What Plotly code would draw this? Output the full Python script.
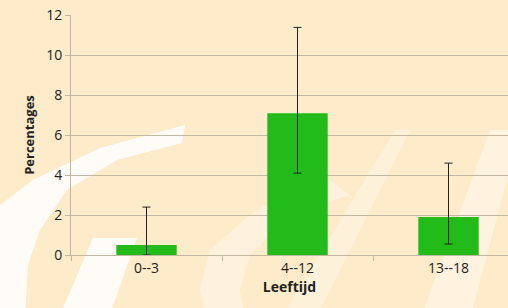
import plotly.graph_objects as go

categories = ["0--3", "4--12", "13--18"]
values = [0.5, 7.1, 1.9]
err_plus = [1.9, 4.3, 2.7]
err_minus = [0.5, 3.0, 1.35]
y_ticks = [0, 2, 4, 6, 8, 10, 12]

W, H = 508, 308
L, T = 71, 15
R, B = 0, 53
pw, ph = W - L - R, H - T - B

def P(px, py):
    return (px - L) / pw, (H - B - py) / ph

def path(pts):
    s = ""
    for i, (x, y) in enumerate(pts):
        xp, yp = P(x, y)
        s += ("M" if i == 0 else "L") + f"{xp:.4f},{yp:.4f} "
    return s + "Z"

shapes = []
swoosh = [(-10, 190), (0, 205), (33, 180), (100, 148), (185, 125), (182, 143),
          (117, 160), (67, 190), (40, 230), (28, 265), (25, 320), (-10, 320)]
shapes.append(dict(type="path", xref="paper", yref="paper", path=path(swoosh),
                   fillcolor="rgba(255,255,255,0.85)", line=dict(width=0), layer="below"))
stripe = [(93, 238), (137, 238), (108, 320), (58, 320)]
shapes.append(dict(type="path", xref="paper", yref="paper", path=path(stripe),
                   fillcolor="rgba(255,255,255,0.85)", line=dict(width=0), layer="below"))
c_shape = [(330, 180), (290, 190), (250, 215), (210, 250), (200, 290), (205, 320),
           (245, 320), (240, 290), (250, 255), (280, 225), (320, 205), (350, 195)]
shapes.append(dict(type="path", xref="paper", yref="paper", path=path(c_shape),
                   fillcolor="rgba(255,255,255,0.35)", line=dict(width=0), layer="below"))
stripe2 = [(395, 130), (410, 130), (315, 320), (280, 320)]
shapes.append(dict(type="path", xref="paper", yref="paper", path=path(stripe2),
                   fillcolor="rgba(255,255,255,0.3)", line=dict(width=0), layer="below"))
stripe3 = [(490, 130), (520, 130), (470, 320), (420, 320)]
shapes.append(dict(type="path", xref="paper", yref="paper", path=path(stripe3),
                   fillcolor="rgba(255,255,255,0.4)", line=dict(width=0), layer="below"))

fig = go.Figure()
fig.add_trace(go.Bar(
    x=categories, y=values, width=0.4,
    marker=dict(color="#22BB1A", line=dict(width=0)),
    error_y=dict(type="data", array=err_plus, arrayminus=err_minus,
                 color="#222222", thickness=1, width=4),
))

grid = "#C2B8A2"
fig.update_layout(
    width=W, height=H,
    margin=dict(l=L, r=R, t=T, b=B, autoexpand=False),
    paper_bgcolor="#FDEBC9", plot_bgcolor="rgba(0,0,0,0)",
    font=dict(family="Open Sans, Lato, sans-serif", color="#222222"),
    showlegend=False, shapes=shapes,
    xaxis=dict(range=[-0.5, 2.394], ticks="outside", tickson="boundaries",
               ticklen=5, tickcolor=grid, showline=True, linecolor=grid,
               showgrid=False, tickfont=dict(size=14, color="#222222"),
               title=dict(text="<b>Leeftijd</b>", font=dict(size=14), standoff=6)),
    yaxis=dict(range=[0, 12.02], tickvals=y_ticks, ticks="outside", ticklen=5,
               tickcolor=grid, showline=True, linecolor=grid, gridcolor=grid,
               gridwidth=1, zeroline=False, tickfont=dict(size=14, color="#222222"),
               ticklabeloverflow="allow",
               title=dict(text="<b>Percentages</b>", font=dict(size=13), standoff=8)),
)

fig.write_html("out.html", config={"displayModeBar": False},
               post_script="document.body.style.margin='0';document.body.style.overflow='hidden';")
